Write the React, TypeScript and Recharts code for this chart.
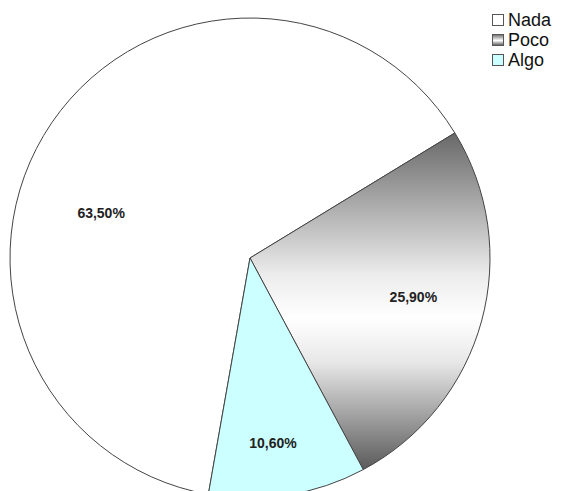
import React from 'react';
import { PieChart, Pie, Cell, Legend } from 'recharts';

const categories = ['Nada', 'Poco', 'Algo'];
const shares = [63.5, 25.9, 10.6];
const labels = ['63,50%', '25,90%', '10,60%'];

const FILLS = ['#ffffff', 'url(#pocoGrad)', '#ccffff'];
// label placement tweaks (radius ratio, angle shift) per slice
const LABEL_TWEAK = [
  { ratio: 0.648, shift: 17.5 },
  { ratio: 0.7, shift: 1.7 },
  { ratio: 0.775, shift: -2 },
];

const data = categories.map((name, i) => ({ name, value: shares[i], label: labels[i] }));

const RAD = Math.PI / 180;

const renderLabel = (props: any) => {
  const { cx, cy, outerRadius, midAngle, index } = props;
  const t = LABEL_TWEAK[index];
  const r = outerRadius * t.ratio;
  const a = (midAngle + t.shift) * RAD;
  const x = cx + r * Math.cos(a);
  const y = cy - r * Math.sin(a);
  return (
    <text
      x={x}
      y={y}
      textAnchor="middle"
      dominantBaseline="central"
      fontFamily="Liberation Sans, Arial, sans-serif"
      fontWeight="bold"
      fontSize={14}
      fill="#222"
    >
      {data[index].label}
    </text>
  );
};

const renderLegend = () => (
  <div style={{ fontFamily: 'Liberation Sans, Arial, sans-serif', fontSize: 18, lineHeight: '20px', color: '#111' }}>
    {categories.map((c, i) => (
      <div key={c} style={{ display: 'flex', alignItems: 'center', height: 20 }}>
        <span
          style={{
            display: 'inline-block',
            width: 10,
            height: 10,
            border: '1px solid #555',
            marginRight: 4,
            background:
              i === 1
                ? 'linear-gradient(#777, #fff 55%, #666)'
                : FILLS[i],
          }}
        />
        <span>{c}</span>
      </div>
    ))}
  </div>
);

export default function App() {
  return (
    <div style={{ position: 'absolute', left: 0, top: 0, width: 567, height: 491, overflow: 'hidden', background: '#fff' }}>
      <PieChart width={567} height={491} margin={{ top: 0, right: 0, bottom: 0, left: 0 }}>
        <defs>
          <linearGradient id="pocoGrad" x1="0" y1="0" x2="0" y2="1">
            <stop offset="0%" stopColor="#686868" />
            <stop offset="42%" stopColor="#ececec" />
            <stop offset="55%" stopColor="#ffffff" />
            <stop offset="68%" stopColor="#e8e8e8" />
            <stop offset="100%" stopColor="#5a5a5a" />
          </linearGradient>
        </defs>
        <Pie
          data={data}
          dataKey="value"
          nameKey="name"
          cx={250}
          cy={258}
          outerRadius={240}
          startAngle={260}
          endAngle={-100}
          stroke="#444"
          strokeWidth={1}
          label={renderLabel}
          labelLine={false}
          isAnimationActive={false}
        >
          {data.map((d, i) => (
            <Cell key={d.name} fill={FILLS[i]} />
          ))}
        </Pie>
        <Legend
          layout="vertical"
          verticalAlign="top"
          align="right"
          content={renderLegend}
          wrapperStyle={{ top: 10, left: 492, width: 80 }}
        />
      </PieChart>
    </div>
  );
}
